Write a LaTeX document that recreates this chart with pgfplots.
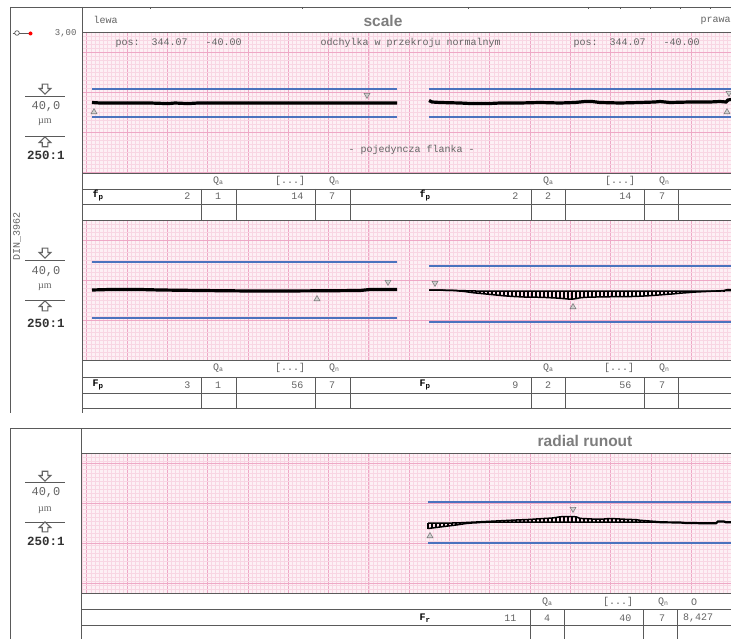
\documentclass[border=0pt]{standalone}
\usepackage{pgfplots}
\usepackage{pgfplotstable}
\pgfplotsset{compat=1.18}
\usepackage{fontspec}
\setmainfont{Liberation Mono}
\newfontfamily\sansb{Liberation Sans}
\newfontfamily\serifm{Liberation Serif}
\definecolor{gridbg}{RGB}{253,240,245}
\definecolor{gridmaj}{RGB}{238,168,198}
\definecolor{gridmin}{RGB}{248,214,227}
\definecolor{tol}{RGB}{75,115,190}
\definecolor{txt}{RGB}{100,100,100}
\definecolor{frm}{RGB}{90,90,90}
\definecolor{head}{RGB}{125,125,125}
\definecolor{mk}{RGB}{125,125,125}

\pgfplotstableread{
x t b
429 290.2 290.2
440 290.2 290.2
452 290.3 290.4
460 290.6 291.0
464 290.7 291.4
468 290.8 292.0
472 290.9 292.6
476 291 293.0
480 291 293.4
484 291 293.8
488 291 294.2
492 291 294.6
496 291 295.0
500 291 295.4
504 291 295.8
508 291 296.1
512 291 296.4
516 291 296.6
520 291 296.8
524 291 297.0
528 291 297.0
532 291 297.1
536 291 297.2
540 291 297.3
544 291 297.4
548 291 297.6
552 291 297.8
556 291 298.0
560 291 298.3
564 291 298.6
568 291 299.0
572 291 299.2
576 291 298.6
580 291 297.8
584 291 297.4
588 291 297.2
592 291 297.0
596 291 297.0
600 291 296.9
604 291 296.8
608 291 296.8
612 291 296.7
616 291 296.7
620 291 296.6
624 291 296.6
628 291 296.5
632 291 296.5
636 291 296.4
640 291 296.2
644 291 296.0
648 291 295.8
652 291 295.5
656 291 295.2
660 291 294.9
664 291 294.6
668 291 294.3
672 291 294.0
676 291 293.6
680 291 293.2
684 291 292.9
688 291 292.6
692 291 292.3
696 291 292.0
700 291 291.8
704 291 291.6
708 291 291.4
712 291 291.2
716 291 291.0
720 290.8 291.0
724 290.5 290.8
728 289.5 290.5
731 289.8 290.5
}\ladderB

\pgfplotstableread{
x t b
428 523.0 528.5
432 523.0 528.0
436 523.0 527.5
440 523.0 527.0
444 523.0 526.5
448 523.0 526.0
452 523.0 525.5
456 522.9 525.0
460 522.8 524.4
464 522.6 523.8
468 522.4 523.3
472 522.2 523.0
476 522.0 522.8
480 521.8 522.5
484 521.6 522.3
488 521.4 522.2
492 521.2 522.1
496 521.0 522.0
500 520.8 522.0
504 520.6 522.0
508 520.4 522.0
512 520.2 522.0
516 520.0 522.0
520 519.8 522.0
524 519.7 522.0
528 519.5 522.0
532 519.3 522.0
536 519.0 522.0
540 518.8 522.0
544 518.5 522.0
548 518.3 522.0
552 518.0 522.0
556 517.5 522.0
560 516.8 522.0
564 516.6 522.0
568 516.6 522.0
572 516.6 522.0
576 516.8 522.0
580 518.4 522.0
584 518.6 522.0
588 518.8 522.0
592 519.0 522.0
596 519.0 522.0
600 519.0 522.0
604 519.0 522.0
608 518.6 522.0
612 518.5 522.0
616 518.8 522.0
620 519.0 522.0
624 519.2 522.0
628 519.4 522.0
632 519.5 522.0
636 519.6 522.0
640 520.3 522.0
644 520.6 522.0
648 520.9 522.0
652 521.2 522.0
656 521.5 522.2
}\ladderC

\pgfplotsset{
  panel/.style={
    scale only axis, width=649pt, height=140pt, anchor=north west,
    xmin=82, xmax=731, y dir=reverse,
    axis background/.style={fill=gridbg},
    axis line style={draw=none}, tick style={draw=none},
    major tick length=0pt, minor tick length=0pt,
    xticklabels={}, yticklabels={},
    grid=both,
    major grid style={gridmaj, line width=0.7pt},
    minor grid style={gridmin, line width=0.45pt},
    xtick={86.7,127,...,731},
    minor xtick={82.67,86.7,...,731},
  },
  tolline/.style={tol, line width=1.3pt},
  trace/.style={black, line width=3.2pt},
  upm/.style={only marks, mark=triangle*, mark size=3.4pt, mark options={fill=mk!35, draw=mk, line width=0.6pt}},
  downm/.style={only marks, mark=triangle*, mark size=3.4pt, mark options={rotate=180, fill=mk!35, draw=mk, line width=0.6pt}},
  ladder/.style={black, line width=1.5pt, mark=none,
    error bars/.cd, y dir=plus, y explicit, error mark=none,
    error bar style={black, line width=1.3pt}},
}

% outlined block arrows (down / up) centred at (45,#1)
\newcommand\downarr[1]{\draw[txt, line width=1.1pt, line join=miter, fill=white]
  (42.2,#1-4.8) -- (47.8,#1-4.8) -- (47.8,#1-0.5) -- (50.8,#1-0.5) -- (45,#1+5) -- (39.2,#1-0.5) -- (42.2,#1-0.5) -- cycle;}
\newcommand\uparr[1]{\draw[txt, line width=1.1pt, line join=miter, fill=white]
  (42.2,#1+4.8) -- (47.8,#1+4.8) -- (47.8,#1+0.5) -- (50.8,#1+0.5) -- (45,#1-5) -- (39.2,#1+0.5) -- (42.2,#1+0.5) -- cycle;}
\newcommand\leftlab[7]{%
  \downarr{#1}
  \draw[frm, line width=0.8pt] (25,#2) -- (65,#2);
  \node[txt, font=\fontsize{12}{12}\selectfont] at (46,#3) {40,0};
  \node[txt, font=\serifm\fontsize{10}{10}\selectfont] at (45,#4) {µm};
  \draw[frm, line width=0.8pt] (25,#5) -- (65,#5);
  \uparr{#6}
  \node[black!80, font=\bfseries\fontsize{12.5}{12.5}\selectfont] at (46,#7) {250:1};
}
\newcommand\Qa{Q\raisebox{-1.5pt}{\fontsize{6.5}{6.5}\selectfont a}}
\newcommand\Qn{Q\raisebox{-1.5pt}{\fontsize{6.5}{6.5}\selectfont n}}
\newcommand\lab[2]{{\bfseries #1\raisebox{-2pt}{\fontsize{7.5}{7.5}\selectfont #2}}}

\begin{document}
\begin{tikzpicture}
\useasboundingbox (0,0) rectangle (731pt,-639pt);
\fill[white] (0,0) rectangle (731pt,-639pt);

% ---------- Panel 1 ----------
\begin{axis}[panel, at={(82pt,-32pt)}, ymin=32, ymax=172,
  ytick={52,92,132,172}, minor ytick={32,36,...,172}]
\addplot[tolline] coordinates {(92,89) (397,89)};
\addplot[tolline] coordinates {(92,117) (397,117)};
\addplot[tolline] coordinates {(429,89) (731,89)};
\addplot[tolline] coordinates {(429,117) (731,117)};
\addplot[trace] coordinates {(92,102.5) (100,103) (150,103) (168,103.6) (175,103) (188,103.6) (198,103) (250,103) (300,103) (350,103) (397,103)};
\addplot[trace] coordinates {(429,100.5) (432,102) (440,102.5) (460,103) (470,103.5) (490,103.5) (500,103) (520,103) (540,102.5) (560,103) (575,102.5) (585,101.5) (592,101.5) (600,102.5) (620,103) (640,102.5) (655,102) (660,101.5) (670,102.5) (690,102) (710,102) (720,101.5) (726,102) (728,100) (731,99.5)};
\addplot[downm] coordinates {(367,95) (729,93)};
\addplot[upm] coordinates {(94,112) (727,112)};
\end{axis}

% ---------- Panel 2 ----------
\begin{axis}[panel, at={(82pt,-220pt)}, ymin=220, ymax=360,
  ytick={240,280,320,360}, minor ytick={220,224,...,360}]
\addplot[tolline] coordinates {(92,262) (397,262)};
\addplot[tolline] coordinates {(92,318) (397,318)};
\addplot[tolline] coordinates {(429,266) (731,266)};
\addplot[tolline] coordinates {(429,322) (731,322)};
\addplot[trace] coordinates {(92,290) (110,289.5) (140,289.5) (160,290) (200,290.5) (250,291) (280,291) (320,290.8) (360,290.5) (370,289.5) (397,289.5)};
\addplot[ladder] table[x=x, y=t, y error expr=\thisrow{b}-\thisrow{t}] {\ladderB};
\addplot[black, line width=1.5pt] table[x=x, y=b] {\ladderB};
\addplot[downm] coordinates {(388,282) (435,283)};
\addplot[upm] coordinates {(317,299) (573,307)};
\end{axis}

% ---------- Panel 3 ----------
\begin{axis}[panel, at={(82pt,-453pt)}, ymin=453, ymax=593,
  ytick={463,503,543,583}, minor ytick={453,457,...,593}]
\addplot[tolline] coordinates {(428,502) (731,502)};
\addplot[tolline] coordinates {(428,543) (731,543)};
\addplot[ladder] table[x=x, y=t, y error expr=\thisrow{b}-\thisrow{t}] {\ladderC};
\addplot[black, line width=1.5pt] table[x=x, y=b] {\ladderC};
\addplot[black, line width=2.2pt] coordinates {(656,522) (664,522.3) (672,522.4) (680,522.5) (686,523) (694,523) (700,523.2) (710,523.3) (716,523.2) (718,521.5) (724,521.5) (726,522.3) (731,522.3)};
\addplot[downm] coordinates {(573,509)};
\addplot[upm] coordinates {(430,536)};
\end{axis}

% ---------- frames, tables, text ----------
\begin{scope}[x=1pt, y=-1pt]
\begin{scope}[frm, line width=0.8pt]
% upper section
\draw (10,7) -- (731,7);
\draw (10,7) -- (10,413);
\draw (82,7) -- (82,413);
\draw (82,32) -- (731,32);
\foreach \yy in {173,189,204,220,360,377,393,408} \draw (82,\yy) -- (731,\yy);
\foreach \xx in {201,236,315,350,531,565,644,678} {
  \draw (\xx,189) -- (\xx,220);
  \draw (\xx,377) -- (\xx,408);
}
\foreach \xx in {150,302,468,588,620,650,680,710} \draw (\xx,7) -- (\xx,9);
% lower section
\draw (10,428) -- (731,428);
\draw (10,428) -- (10,639);
\draw (81,428) -- (81,639);
\foreach \yy in {453,593,609,625} \draw (81,\yy) -- (731,\yy);
\foreach \xx in {530,564,643,677} \draw (\xx,609) -- (\xx,639);
\end{scope}

% header texts
\node[head, font=\sansb\bfseries\fontsize{15.5}{15.5}\selectfont] at (383,21) {scale};
\node[head, font=\sansb\bfseries\fontsize{15.5}{15.5}\selectfont] at (585,441) {radial runout};
\begin{scope}[txt, font=\fontsize{10}{10}\selectfont]
\node[anchor=west] at (90,20) {lewa};
\node[anchor=west] at (697,21) {prawa};
\node[anchor=west] at (112,43) {pos:\ \ 344.07\ \ \ -40.00};
\node[anchor=west] at (317,43) {odchylka w przekroju normalnym};
\node[anchor=west] at (570,43) {pos:\ \ 344.07\ \ \ -40.00};
\node[anchor=west] at (345,150) {- pojedyncza flanka -};
\node[anchor=east, font=\fontsize{9}{9}\selectfont] at (80,33) {3,00};
\node[rotate=90, font=\fontsize{10}{10}\selectfont] at (17,236) {DIN\_3962};

% table 1
\node at (218,181) {\Qa}; \node at (290,181) {[...]}; \node at (334,181) {\Qn};
\node at (548,181) {\Qa}; \node at (620,181) {[...]}; \node at (664,181) {\Qn};
\node[anchor=west, black] at (89,196) {\lab{f}{p}};
\node[anchor=east] at (194,196) {2}; \node at (218,196) {1};
\node[anchor=east] at (307,196) {14}; \node at (332,196) {7};
\node[anchor=west, black] at (416,196) {\lab{f}{p}};
\node[anchor=east] at (522,196) {2}; \node at (548,196) {2};
\node[anchor=east] at (635,196) {14}; \node at (662,196) {7};

% table 2
\node at (218,368) {\Qa}; \node at (290,368) {[...]}; \node at (334,368) {\Qn};
\node at (548,368) {\Qa}; \node at (619,368) {[...]}; \node at (664,368) {\Qn};
\node[anchor=west, black] at (89,385) {\lab{F}{p}};
\node[anchor=east] at (194,385) {3}; \node at (218,385) {1};
\node[anchor=east] at (307,385) {56}; \node at (332,385) {7};
\node[anchor=west, black] at (416,385) {\lab{F}{p}};
\node[anchor=east] at (522,385) {9}; \node at (548,385) {2};
\node[anchor=east] at (635,385) {56}; \node at (662,385) {7};

% table 3
\node at (547,602) {\Qa}; \node at (618,602) {[...]}; \node at (663,602) {\Qn}; \node at (694,602) {O};
\node[anchor=west, black] at (416,618) {\lab{F}{r}};
\node[anchor=east] at (520,618) {11}; \node at (547,618) {4};
\node[anchor=east] at (635,618) {40}; \node at (662,618) {7};
\node at (698,618) {8,427};
\end{scope}

% probe icon
\draw[frm, line width=0.7pt] (17,33) circle (2.3);
\draw[frm, line width=0.7pt] (12.5,33) -- (14.7,33) (19.3,33) -- (29,33);
\fill[red] (30.5,33.5) circle (2);

% left labels
\leftlab{89}{96}{107}{122}{136}{142}{155}
\leftlab{253}{260}{272}{287}{300}{306}{323}
\leftlab{476}{482}{493}{510}{522}{527}{541}
\end{scope}
\end{tikzpicture}
\end{document}
